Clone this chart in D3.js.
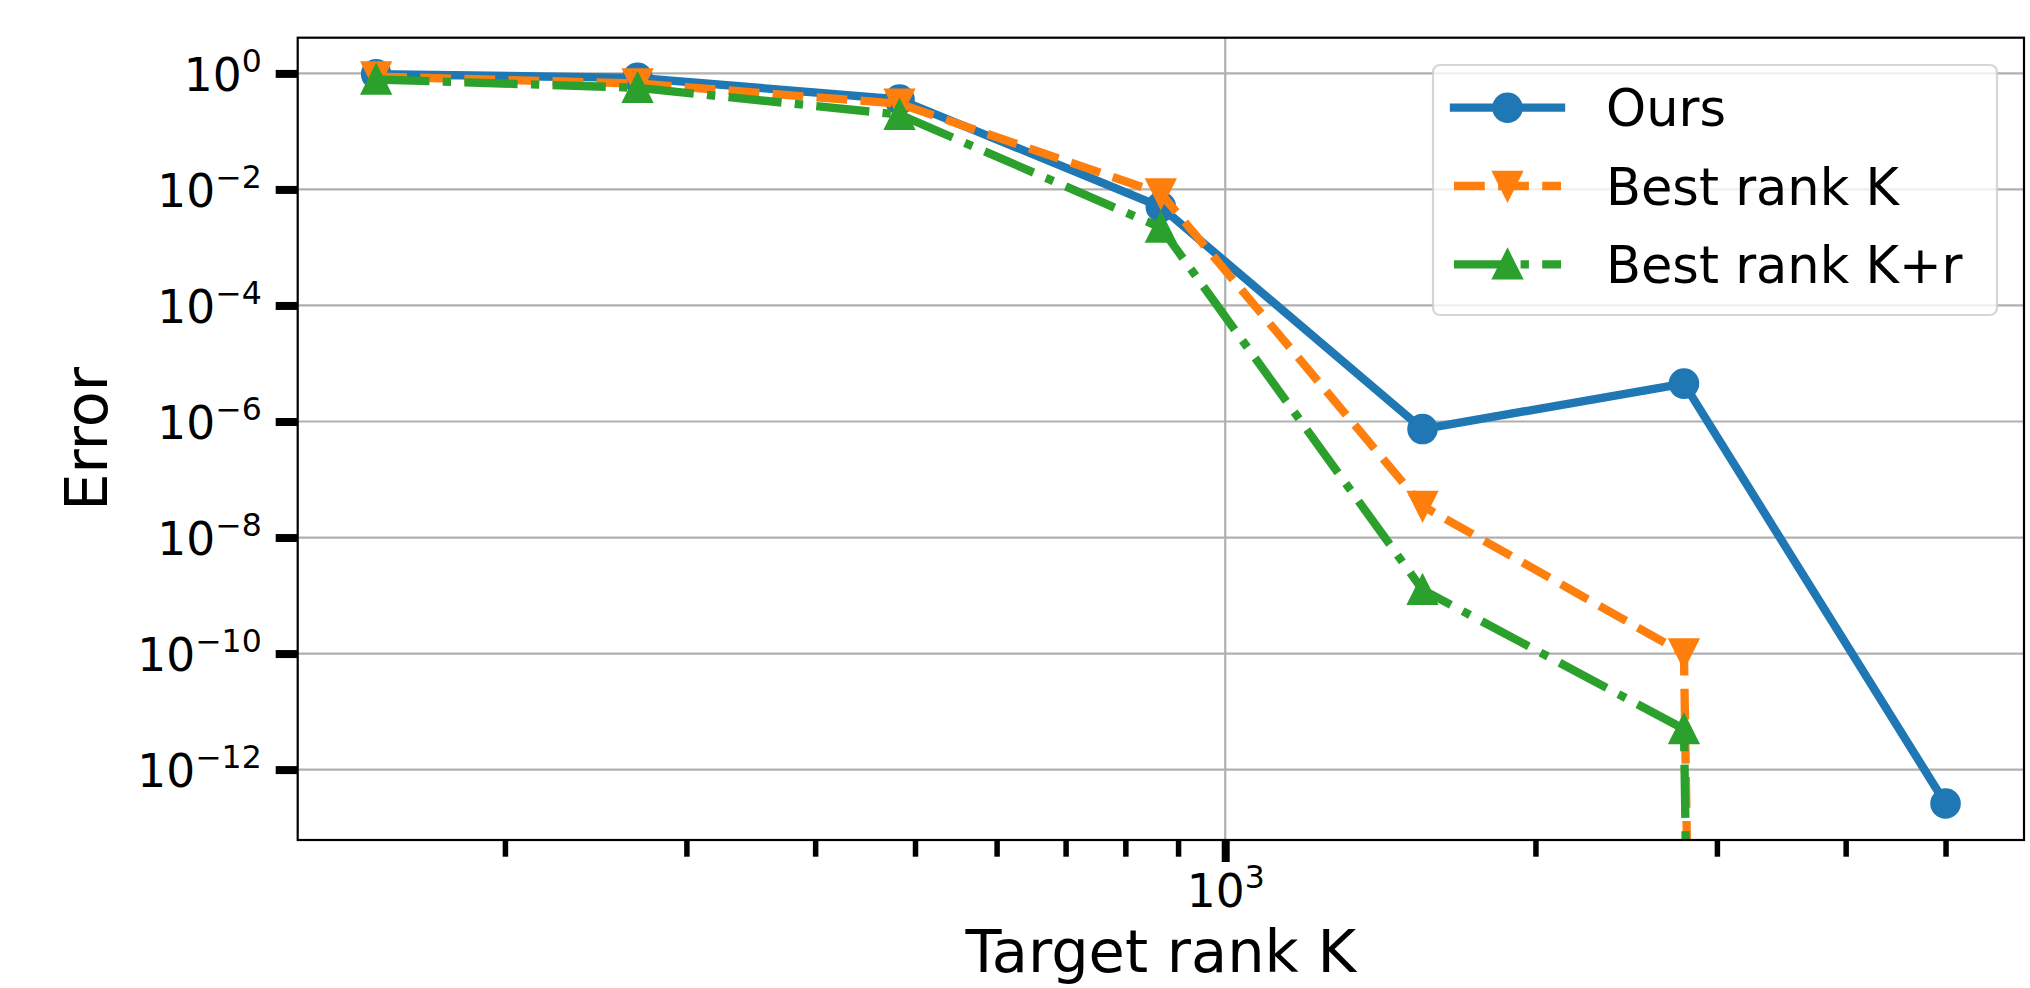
<!DOCTYPE html>
<html>
<head>
<meta charset="utf-8">
<script src="https://cdn.jsdelivr.net/npm/d3@7"></script>
<style>
  body { margin: 0; background: #fff; }
  svg { display: block; font-family: "DejaVu Sans", sans-serif; }
  .grid line { stroke: #b0b0b0; stroke-width: 2.2; }
  .axis path { display: none; }
  .axis text { font-family: "DejaVu Sans", sans-serif; fill: #000; }
</style>
</head>
<body>
<div id="chart"></div>
<script>
// target rank K
var ranks = [150, 269, 483, 866, 1554, 2787, 5000];

// error of each method (0 = exact, falls off the log axis)
var ours   = [0.97, 0.84, 0.355, 5.0e-3, 7.4e-7, 4.5e-6, 2.6e-13];
var bestK  = [0.88, 0.67, 0.30, 8.5e-3, 3.5e-8, 1.0e-10, 0];
var bestKr = [0.785, 0.565, 0.195, 2.2e-3, 1.26e-9, 5.0e-12, 0];

var seriesNames = ["Ours", "Best rank K", "Best rank K+r"];

// tick labels
var yExps = [0, -2, -4, -6, -8, -10, -12];
var xMajorExps = [3];
var xMinor = [200, 300, 400, 500, 600, 700, 800, 900, 2000, 3000, 4000, 5000];

var chart = {};
(function(context) {

    var width = 2030;
    var height = 988;

    // plot area
    var x0 = 297.7, x1 = 2024;
    var y0 = 37.7, y1 = 840;

    var lw = 8.33;      // line width (3pt @ 200dpi)
    var ms = 13.9;      // half marker size
    var tickFont = 45.5;
    var supFont = 31.5;

    var svg, x, y;

    // matplotlib style 5% margin in log space
    function logPad(lo, hi) {
        var a = Math.log10(lo), b = Math.log10(hi), m = 0.05 * (b - a);
        return [Math.pow(10, a - m), Math.pow(10, b + m)];
    }

    function superscript(sel, exp) {
        sel.text(null);
        sel.append("tspan").text("10");
        sel.append("tspan")
            .attr("dy", -19)
            .attr("font-size", supFont)
            .text(exp < 0 ? "\u2212" + (-exp) : String(exp));
    }

    var series = [
        { name: seriesNames[0], values: ours,   color: "#1f77b4", dash: null,                    marker: "circle" },
        { name: seriesNames[1], values: bestK,  color: "#ff7f0e", dash: "30.8,13.3",             marker: "down" },
        { name: seriesNames[2], values: bestKr, color: "#2ca02c", dash: "53.3,13.3,8.33,13.3",   marker: "up" }
    ];

    function markerPath(type) {
        if (type === "up")
            return "M0," + (-ms) + "L" + ms + "," + ms + "L" + (-ms) + "," + ms + "Z";
        if (type === "down")
            return "M0," + ms + "L" + ms + "," + (-ms) + "L" + (-ms) + "," + (-ms) + "Z";
        return d3.symbol().type(d3.symbolCircle).size(Math.PI * ms * ms)();
    }

    context.draw = function(name) {

        svg = d3.select(name).append("svg")
            .attr("width", width)
            .attr("height", height);

        var positive = [];
        series.forEach(function(s) {
            s.values.forEach(function(v) { if (v > 0) positive.push(v); });
        });

        x = d3.scaleLog()
            .domain(logPad(d3.min(ranks), d3.max(ranks)))
            .range([x0, x1]);

        y = d3.scaleLog()
            .domain(logPad(d3.min(positive), d3.max(positive)))
            .range([y1, y0]);

        svg.append("clipPath").attr("id", "plotclip")
            .append("rect")
            .attr("x", x0).attr("y", y0)
            .attr("width", x1 - x0).attr("height", y1 - y0);

        // grid
        var grid = svg.append("g").attr("class", "grid");
        grid.selectAll("line.h")
            .data(yExps)
            .enter().append("line")
            .attr("class", "h")
            .attr("x1", x0).attr("x2", x1)
            .attr("y1", function(d) { return y(Math.pow(10, d)); })
            .attr("y2", function(d) { return y(Math.pow(10, d)); });
        grid.selectAll("line.v")
            .data(xMajorExps)
            .enter().append("line")
            .attr("class", "v")
            .attr("y1", y0).attr("y2", y1)
            .attr("x1", function(d) { return x(Math.pow(10, d)); })
            .attr("x2", function(d) { return x(Math.pow(10, d)); });

        // lines + markers
        var line = d3.line()
            .x(function(d, i) { return x(ranks[i]); })
            .y(function(d) { return y(Math.max(d, 1e-300)); });

        var plot = svg.append("g").attr("clip-path", "url(#plotclip)");

        series.forEach(function(s) {
            plot.append("path")
                .datum(s.values)
                .attr("d", line)
                .attr("fill", "none")
                .attr("stroke", s.color)
                .attr("stroke-width", lw)
                .attr("stroke-linejoin", "round")
                .attr("stroke-linecap", s.dash ? "butt" : "square")
                .attr("stroke-dasharray", s.dash);

            plot.selectAll(null)
                .data(s.values.filter(function(v) { return v > 0; }))
                .enter().append("path")
                .attr("d", markerPath(s.marker))
                .attr("transform", function(d) {
                    return "translate(" + x(ranks[s.values.indexOf(d)]) + "," + y(d) + ")";
                })
                .attr("fill", s.color)
                .attr("stroke", s.color)
                .attr("stroke-width", 2.78)
                .attr("stroke-linejoin", "miter");
        });

        // y axis
        var yAxis = svg.append("g")
            .attr("class", "axis")
            .attr("transform", "translate(" + x0 + ",0)")
            .call(d3.axisLeft(y)
                .tickValues(yExps.map(function(e) { return Math.pow(10, e); }))
                .tickSize(22)
                .tickPadding(14));
        yAxis.selectAll(".tick line").attr("stroke", "#000").attr("stroke-width", 8);
        yAxis.selectAll(".tick text")
            .attr("font-size", tickFont)
            .attr("dy", null)
            .attr("y", 16.6)
            .each(function(d, i) { superscript(d3.select(this), yExps[i]); });

        // x axis minor
        var xMin = svg.append("g")
            .attr("class", "axis")
            .attr("transform", "translate(0," + y1 + ")")
            .call(d3.axisBottom(x).tickValues(xMinor).tickSize(16.7).tickFormat(""));
        xMin.selectAll(".tick line").attr("stroke", "#000").attr("stroke-width", 5.5);

        // x axis major
        var xAxis = svg.append("g")
            .attr("class", "axis")
            .attr("transform", "translate(0," + y1 + ")")
            .call(d3.axisBottom(x)
                .tickValues(xMajorExps.map(function(e) { return Math.pow(10, e); }))
                .tickSize(22));
        xAxis.selectAll(".tick line").attr("stroke", "#000").attr("stroke-width", 8);
        xAxis.selectAll(".tick text")
            .attr("font-size", tickFont)
            .attr("dy", null)
            .attr("y", 67)
            .each(function(d, i) { superscript(d3.select(this), xMajorExps[i]); });

        // spines
        svg.append("rect")
            .attr("x", x0).attr("y", y0)
            .attr("width", x1 - x0).attr("height", y1 - y0)
            .attr("fill", "none")
            .attr("stroke", "#000")
            .attr("stroke-width", 2.2);

        // axis labels
        svg.append("text")
            .attr("x", (x0 + x1) / 2)
            .attr("y", 972)
            .attr("text-anchor", "middle")
            .attr("font-size", 59)
            .text("Target rank K");

        svg.append("text")
            .attr("transform", "translate(107," + (y0 + y1) / 2 + ") rotate(-90)")
            .attr("text-anchor", "middle")
            .attr("font-size", 59)
            .text("Error");

        context.legend(1433, 65, 564, 250);
    };

    context.legend = function(lx, ly, lw2, lh) {
        var g = svg.append("g");
        g.append("rect")
            .attr("x", lx).attr("y", ly)
            .attr("width", lw2).attr("height", lh)
            .attr("rx", 7).attr("ry", 7)
            .attr("fill", "#fff").attr("fill-opacity", 0.8)
            .attr("stroke", "#cccccc").attr("stroke-opacity", 0.8)
            .attr("stroke-width", 2.2);

        var row = g.selectAll("g.row")
            .data(series)
            .enter().append("g")
            .attr("class", "row")
            .attr("transform", function(d, i) { return "translate(" + lx + "," + (ly + 42.7 + i * 78.3) + ")"; });

        row.append("line")
            .attr("x1", 21).attr("x2", 128)
            .attr("y1", 0).attr("y2", 0)
            .attr("stroke", function(d) { return d.color; })
            .attr("stroke-width", lw)
            .attr("stroke-linecap", function(d) { return d.dash ? "butt" : "square"; })
            .attr("stroke-dasharray", function(d) { return d.dash; });

        row.append("path")
            .attr("d", function(d) { return markerPath(d.marker); })
            .attr("transform", "translate(74.5,0)")
            .attr("fill", function(d) { return d.color; })
            .attr("stroke", function(d) { return d.color; })
            .attr("stroke-width", 2.78);

        row.append("text")
            .attr("x", 173)
            .attr("y", 18.5)
            .attr("font-size", 51)
            .text(function(d) { return d.name; });
    };

})(chart);

chart.draw("#chart");
</script>
</body>
</html>
